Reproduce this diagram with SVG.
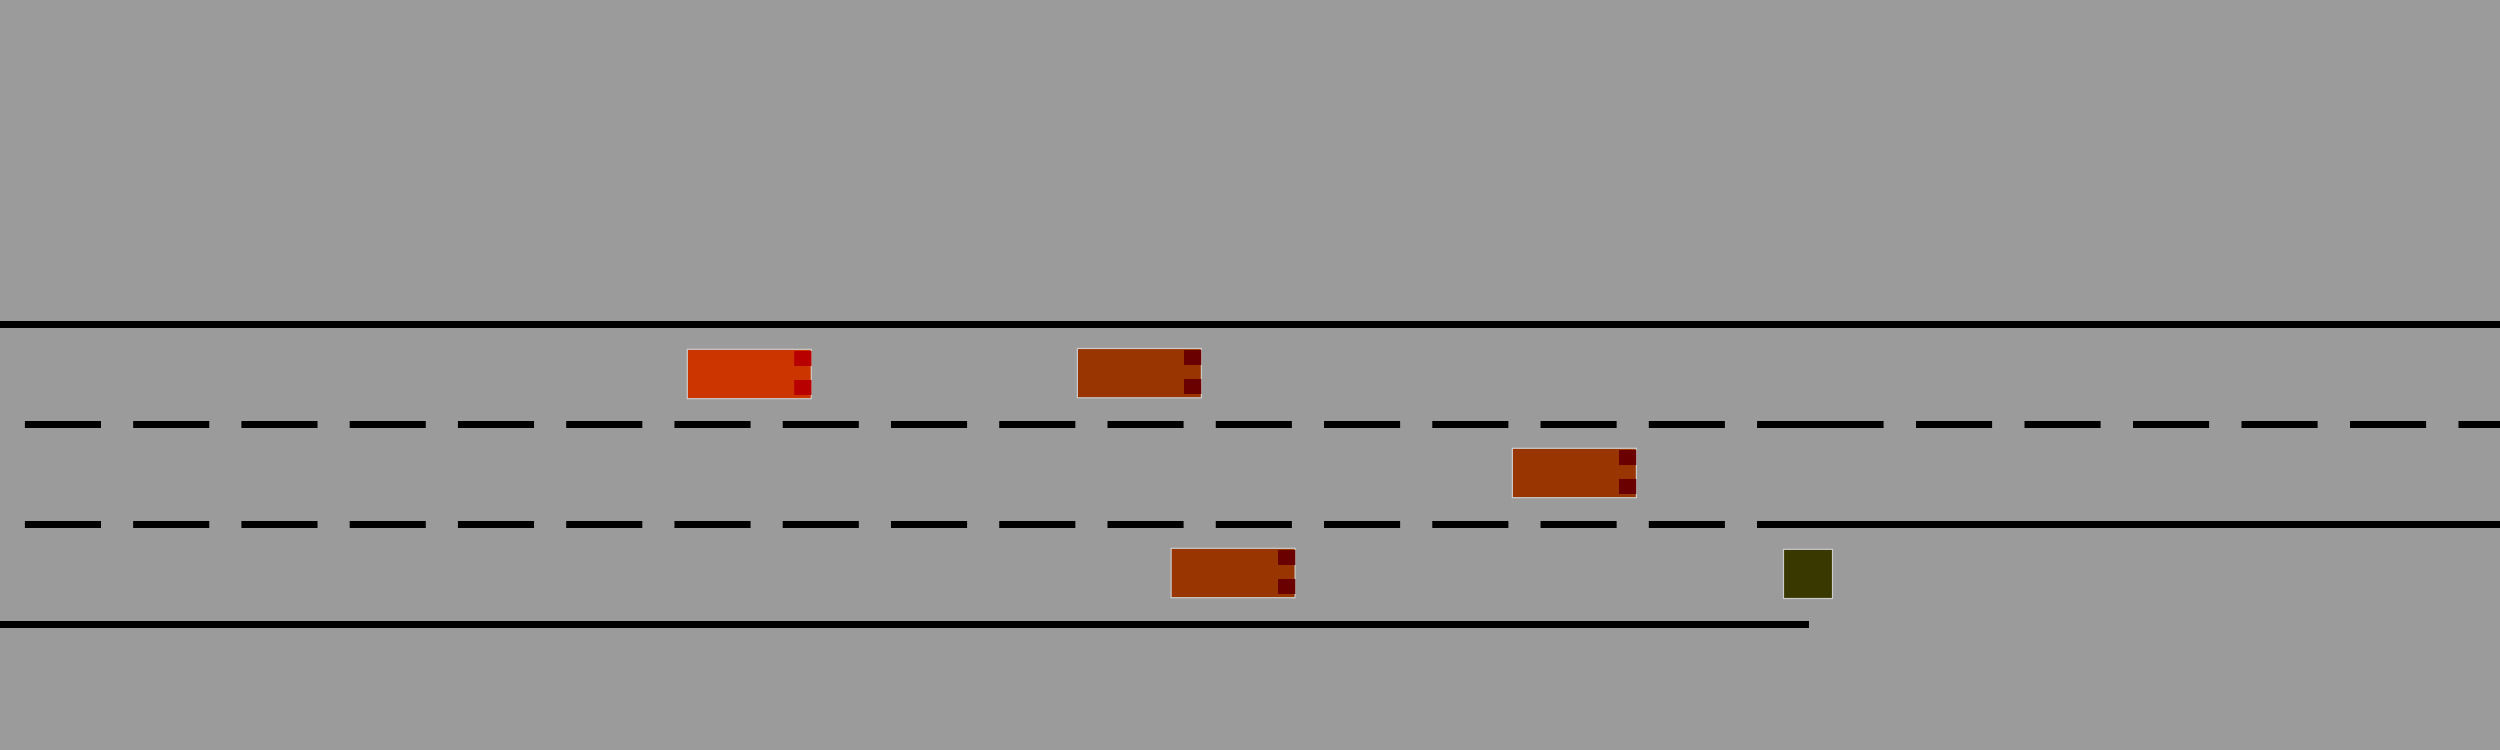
<svg xmlns="http://www.w3.org/2000/svg" width="2500" height="750" viewBox="0 0 2500 750">
  <style>
    .edge { stroke: #000000; stroke-width: 7; fill: none; stroke-linecap: butt; }
    .lane { stroke: #000000; stroke-width: 7; fill: none; stroke-linecap: butt; }
    .body { stroke: #CBCBCB; stroke-width: 1.2; }
    .red { fill: #CD3500; }
    .brown { fill: #993500; }
    .light-red { fill: #B80000; }
    .light-dark { fill: #6B0000; }
    .obstacle { fill: #383800; stroke: #CBCBCB; stroke-width: 1.2; }
  </style>
  <rect x="0" y="0" width="2500" height="750" fill="#9B9B9B"/>

  <g id="road-markings">
    <line class="edge" x1="0" y1="324.5" x2="2500" y2="324.5"/>
    <line class="edge" x1="0" y1="624.5" x2="1809" y2="624.5"/>
    <line class="lane" x1="24.9" y1="424.5" x2="1833" y2="424.5" stroke-dasharray="76.1 32.16"/>
    <line class="lane" x1="1807.5" y1="424.5" x2="2500" y2="424.5" stroke-dasharray="76.1 32.4"/>
    <line class="lane" x1="24.9" y1="524.5" x2="1740" y2="524.5" stroke-dasharray="76.1 32.16"/>
    <line class="lane" x1="1757" y1="524.5" x2="2500" y2="524.5"/>
  </g>

  <g id="car-1">
    <rect class="body red" x="687.3" y="349.3" width="124" height="49.4"/>
    <rect class="light-red" x="794.2" y="351" width="17.3" height="15"/>
    <rect class="light-red" x="794.2" y="380" width="17.3" height="15"/>
  </g>

  <g id="car-2">
    <rect class="body brown" x="1077.4" y="348.5" width="124" height="49.3"/>
    <rect class="light-dark" x="1184" y="350" width="17.3" height="15"/>
    <rect class="light-dark" x="1184" y="379" width="17.3" height="15"/>
  </g>

  <g id="car-3">
    <rect class="body brown" x="1512.4" y="448.3" width="124" height="49.4"/>
    <rect class="light-dark" x="1619" y="450" width="17.3" height="15"/>
    <rect class="light-dark" x="1619" y="479" width="17.3" height="15"/>
  </g>

  <g id="car-4">
    <rect class="body brown" x="1171.1" y="548.3" width="124" height="49.4"/>
    <rect class="light-dark" x="1278" y="550" width="17.3" height="15"/>
    <rect class="light-dark" x="1278" y="579" width="17.3" height="15"/>
  </g>

  <g id="obstacle">
    <rect class="obstacle" x="1783.5" y="549.3" width="49" height="49.2"/>
  </g>
</svg>
